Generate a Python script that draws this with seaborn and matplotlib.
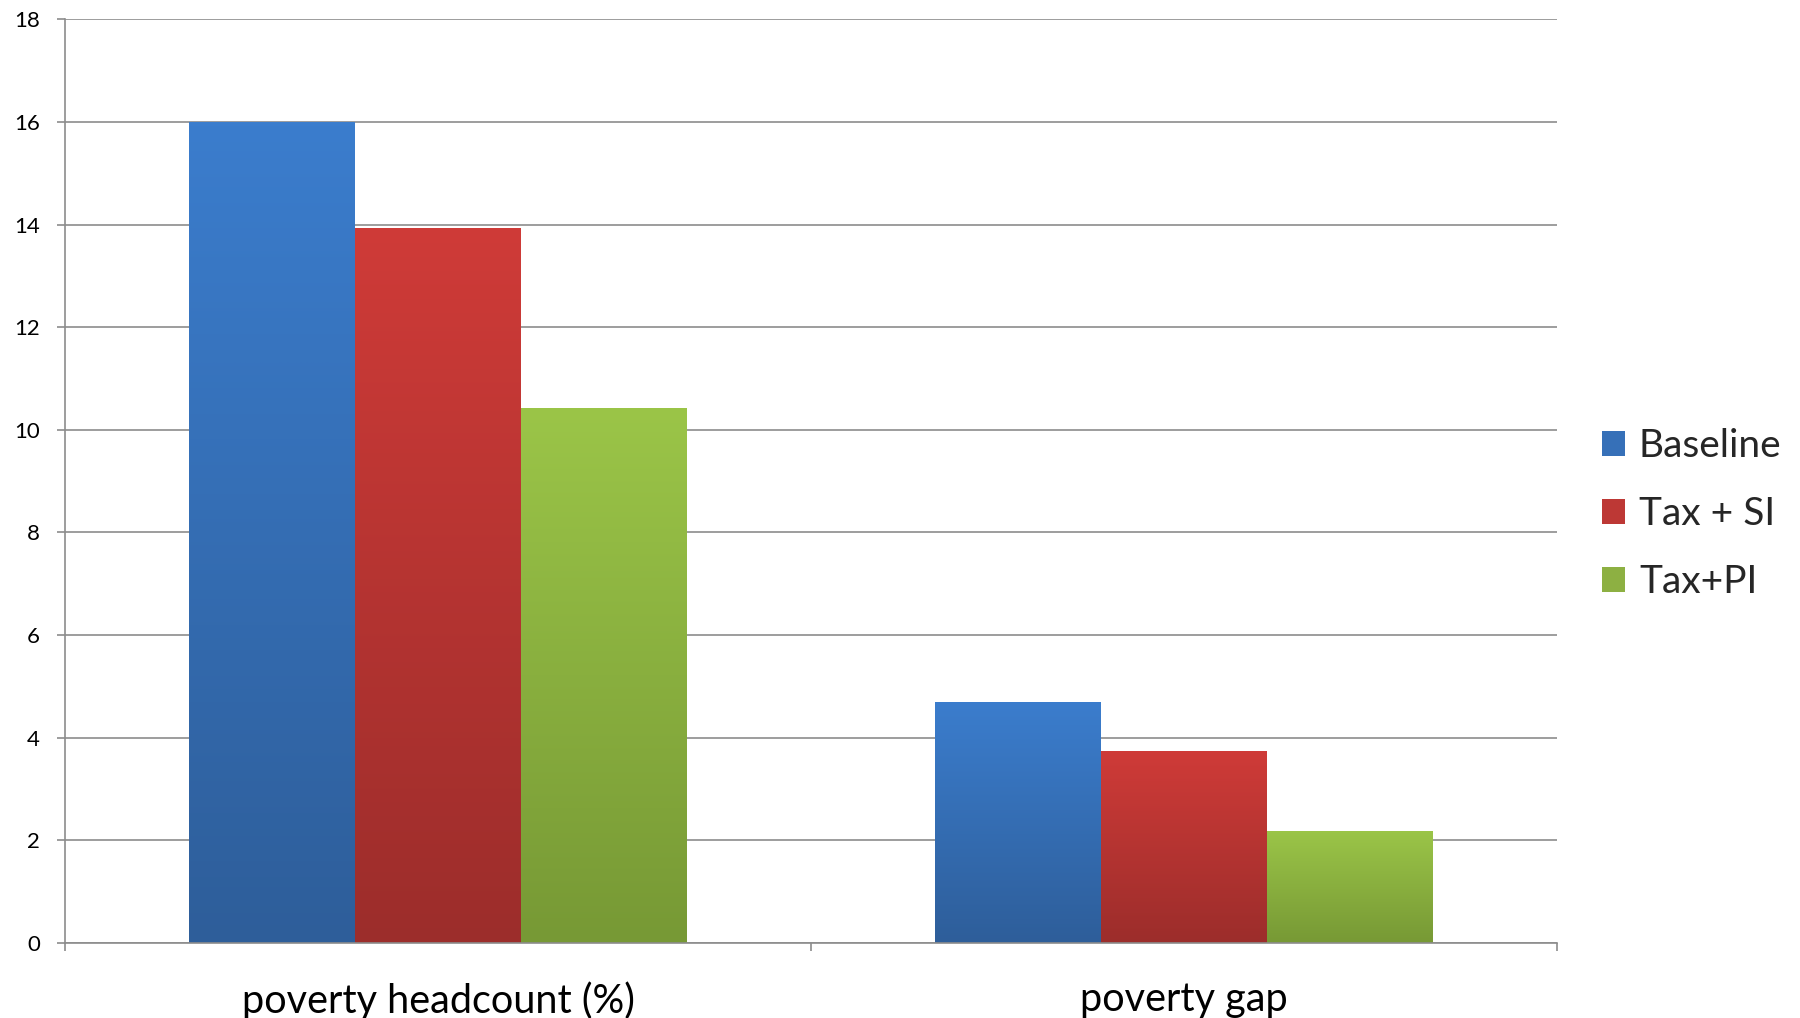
import numpy as np
import pandas as pd
import matplotlib
matplotlib.use("Agg")
import matplotlib.pyplot as plt
import seaborn as sns
from matplotlib.colors import LinearSegmentedColormap
from matplotlib.patches import Patch
from matplotlib.ticker import FixedLocator

# --- data -------------------------------------------------------------
categories = ["poverty headcount (%)", "poverty gap"]
scenarios = ["Baseline", "Tax + SI", "Tax+PI"]
baseline = [16.0, 4.70]
tax_si = [13.93, 3.74]
tax_pi = [10.43, 2.19]
y_ticks = [0, 2, 4, 6, 8, 10, 12, 14, 16, 18]

# bar colours: flat fill plus a vertical gradient (top -> bottom)
mid_colors = ["#3670b8", "#bd3835", "#8db042"]
top_colors = ["#3b7dcd", "#cf3b38", "#9bc548"]
bottom_colors = ["#2e5e9a", "#9c2d2b", "#779935"]

df = pd.DataFrame({
    "category": categories * 3,
    "scenario": np.repeat(scenarios, len(categories)),
    "value": baseline + tax_si + tax_pi,
})

sns.set_theme(style="white")
plt.rcParams["font.family"] = ["Lato", "DejaVu Sans"]

grid_col = "#8c8c8c"

fig = plt.figure(figsize=(18, 10.18), dpi=100)
ax = fig.add_axes([0.0361, 0.0737, 0.865 - 0.0361, 0.981 - 0.0737])

sns.barplot(
    data=df, x="category", y="value", hue="scenario",
    order=categories, hue_order=scenarios, palette=mid_colors,
    width=0.667, gap=0, saturation=1, errorbar=None, legend=False, ax=ax,
)

# vertical gradient over each bar, clipped to the bar shape
grad = np.linspace(0, 1, 256).reshape(-1, 1)
for container, top, bot in zip(ax.containers, top_colors, bottom_colors):
    cmap = LinearSegmentedColormap.from_list("bar_grad", [bot, top])
    for bar in container:
        bar.set_edgecolor("none")
        x0, w, h = bar.get_x(), bar.get_width(), bar.get_height()
        im = ax.imshow(grad, cmap=cmap, origin="lower", aspect="auto",
                       extent=[x0, x0 + w, 0, h], interpolation="bicubic",
                       zorder=bar.get_zorder() + 0.1)
        im.set_clip_path(bar)

ax.set_xlim(-0.5, len(categories) - 0.5)
ax.set_ylim(0, 18)
ax.set_yticks(y_ticks)
ax.set_yticklabels([str(t) for t in y_ticks])

ax.yaxis.grid(True, color=grid_col, linewidth=1.2)
ax.xaxis.grid(False)
ax.set_axisbelow(True)

for side in ("top", "right"):
    ax.spines[side].set_visible(False)
for side in ("left", "bottom"):
    ax.spines[side].set_color(grid_col)
    ax.spines[side].set_linewidth(1.2)

ax.tick_params(axis="y", which="major", direction="out", length=6,
               width=1.2, color=grid_col, labelsize=16, pad=12,
               labelcolor="#000000", left=True)
ax.xaxis.set_minor_locator(FixedLocator([-0.5, 0.5, 1.5]))
ax.tick_params(axis="x", which="major", length=0, labelsize=28.5, pad=27.5,
               labelcolor="#000000")
ax.tick_params(axis="x", which="minor", direction="out", length=6,
               width=1.2, color=grid_col, bottom=True)
ax.set_xlabel("")
ax.set_ylabel("")

handles = [Patch(facecolor=c, edgecolor="none") for c in mid_colors]
fig.legend(handles=handles, labels=scenarios, loc="center left",
           bbox_to_anchor=(1602 / 1800, 1 - 514 / 1018), frameon=False,
           fontsize=28, handlelength=0.6, handleheight=0.6,
           handletextpad=0.35, labelspacing=0.82, borderaxespad=0,
           borderpad=0)

fig.savefig("out.png", dpi=100)
